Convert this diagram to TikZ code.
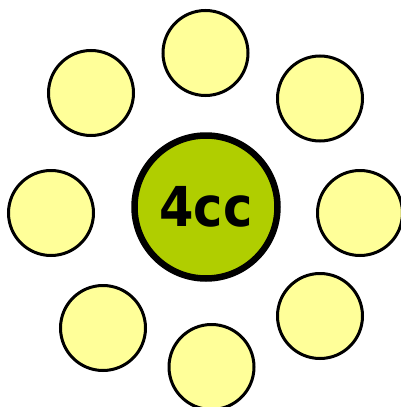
\documentclass[tikz,border=0pt]{standalone}
\usepackage{fontspec}
\setsansfont{DejaVu Sans}
\definecolor{petal}{HTML}{FFFF99}
\definecolor{hub}{HTML}{B0CE00}
\begin{document}
\begin{tikzpicture}[x=1pt,y=-1pt,
  petalc/.style={circle,draw=black,line width=3pt,fill=petal,minimum size=85pt,inner sep=0pt},
  hubc/.style={circle,draw=black,line width=6.5pt,fill=hub,minimum size=143pt,inner sep=0pt,
    font=\sffamily\bfseries\fontsize{55}{55}\selectfont}]
\useasboundingbox (0,0) rectangle (401,407);
\clip (0,0) rectangle (401,407);
\node[hubc] (hub) at (206,207) {\scalebox{0.9}[1]{4cc}};
\node[petalc] (p1) at (205.5,53) {};
\node[petalc] (p2) at (320,98.5) {};
\node[petalc] (p3) at (360,213) {};
\node[petalc] (p4) at (320,316) {};
\node[petalc] (p5) at (211.5,367) {};
\node[petalc] (p6) at (103,328) {};
\node[petalc] (p7) at (51,213) {};
\node[petalc] (p8) at (91,93) {};
\end{tikzpicture}
\end{document}
